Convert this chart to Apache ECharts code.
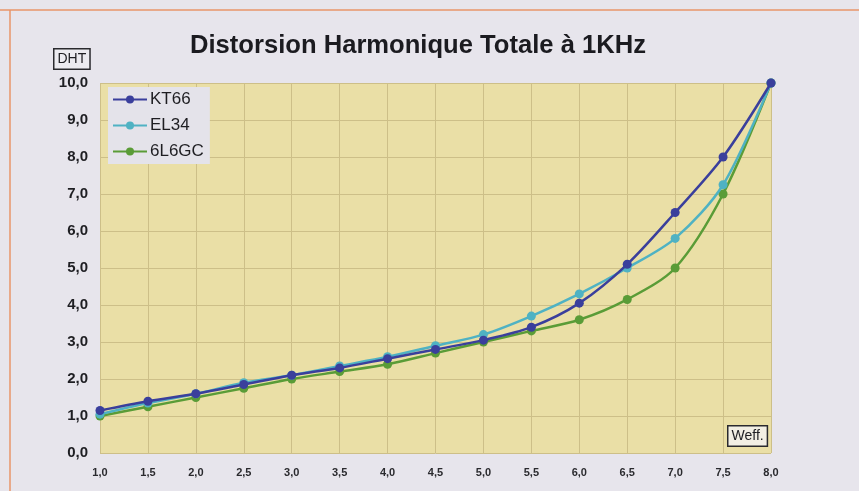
<!DOCTYPE html>
<html>
<head>
<meta charset="utf-8">
<script src="https://cdn.jsdelivr.net/npm/echarts@6/dist/echarts.min.js"></script>
<style>
  html, body { margin: 0; padding: 0; background: #e7e5ec; }
  #chart { width: 859px; height: 491px; }
</style>
</head>
<body>
<div id="chart"></div>
<script>
// Effective output voltage (Weff.) sampled every 0.5
const weff = [1.0, 1.5, 2.0, 2.5, 3.0, 3.5, 4.0, 4.5, 5.0, 5.5, 6.0, 6.5, 7.0, 7.5, 8.0];

// Total harmonic distortion for each power tube
const kt66  = [1.15, 1.4, 1.6, 1.85, 2.1, 2.3, 2.55, 2.8, 3.05, 3.4, 4.05, 5.1, 6.5, 8.0, 10.0];
const el34  = [1.05, 1.35, 1.6, 1.9, 2.1, 2.35, 2.6, 2.9, 3.2, 3.7, 4.3, 5.0, 5.8, 7.25, 10.0];
const l6gc  = [1.0, 1.25, 1.5, 1.75, 2.0, 2.2, 2.4, 2.7, 3.0, 3.3, 3.6, 4.15, 5.0, 7.0, 10.0];

const seriesNames = ['KT66', 'EL34', '6L6GC'];
const seriesValues = [kt66, el34, l6gc];
const seriesColors = ['#3a3f9c', '#4fb2c3', '#5a9c37'];

const comma = v => v.toFixed(1).replace('.', ',');
const FONT = 'Liberation Sans, Arial, Helvetica, sans-serif';

const chart = echarts.init(document.getElementById('chart'));

chart.setOption({
  backgroundColor: '#e7e5ec',
  animation: false,
  textStyle: { fontFamily: FONT },
  title: {
    text: 'Distorsion Harmonique Totale à 1KHz',
    left: 185,
    top: 28,
    textStyle: { fontFamily: FONT, fontSize: 25.6, fontWeight: 'bold', color: '#1b1b20' }
  },
  legend: {
    orient: 'vertical',
    left: 108,
    top: 87,
    padding: [4, 6, 4, 4],
    itemGap: 9,
    itemWidth: 34,
    itemHeight: 10,
    backgroundColor: '#e4e3ea',
    textStyle: { fontFamily: FONT, fontSize: 17, color: '#1e1e22', padding: [0, 0, 0, -2] },
    data: seriesNames
  },
  grid: { left: 100, right: 88, top: 83, bottom: 38, containLabel: false },
  xAxis: {
    type: 'value',
    min: 1,
    max: 8,
    interval: 0.5,
    axisLine: { show: false },
    axisTick: { show: false },
    axisLabel: { formatter: comma, fontSize: 11, fontWeight: 'bold', color: '#2a2a2e', margin: 14 },
    splitLine: { show: true, lineStyle: { color: '#cdbf88', width: 1 } }
  },
  yAxis: {
    type: 'value',
    min: 0,
    max: 10,
    interval: 1,
    axisLine: { show: false },
    axisTick: { show: false },
    axisLabel: { formatter: comma, fontSize: 15, fontWeight: 'bold', color: '#1e1e22', margin: 12 },
    splitLine: { show: true, lineStyle: { color: '#cdbf88', width: 1 } },
    splitArea: { show: false }
  },
  graphic: [
    // frame lines of the panel
    { type: 'line', shape: { x1: 0, y1: 10, x2: 859, y2: 10 }, style: { stroke: '#e8956a', lineWidth: 1.5 }, silent: true },
    { type: 'line', shape: { x1: 10, y1: 10, x2: 10, y2: 491 }, style: { stroke: '#e8956a', lineWidth: 1.5 }, silent: true },
    // plot background
    { type: 'rect', shape: { x: 100, y: 83, width: 671, height: 370 }, style: { fill: '#eadfa6' }, z: -1, silent: true },
    {
      type: 'text', left: 53, top: 48,
      style: { text: 'DHT', font: '14px ' + FONT, fill: '#1e1e22', backgroundColor: '#ecebf0', borderColor: '#2a2a2e', borderWidth: 1.5, padding: [3, 3, 2, 3] }
    },
    {
      type: 'text', left: 727, top: 425,
      style: { text: 'Weff.', font: '14px ' + FONT, fill: '#1e1e22', backgroundColor: '#f2efe4', borderColor: '#2a2a2e', borderWidth: 1.5, padding: [3, 3, 2, 3] }
    }
  ],
  series: seriesNames.map((name, i) => ({
    name,
    type: 'line',
    smooth: 0.3,
    symbol: 'circle',
    symbolSize: 9,
    color: seriesColors[i],
    lineStyle: { width: 2.5, color: seriesColors[i] },
    itemStyle: { color: seriesColors[i] },
    data: weff.map((x, j) => [x, seriesValues[i][j]]),
    z: 3 - i
  }))
});
</script>
</body>
</html>
